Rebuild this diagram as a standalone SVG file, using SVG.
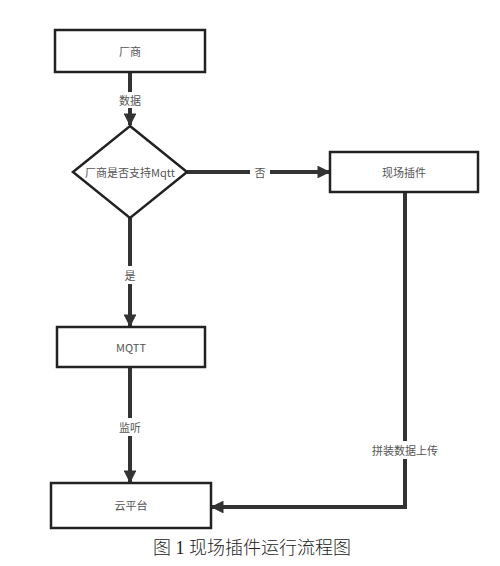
<svg xmlns="http://www.w3.org/2000/svg" width="500" height="566" viewBox="0 0 500 566">
<style>
.box{fill:#fff;stroke:#222;stroke-width:2.5}
.t{font-family:"Noto Sans CJK SC","Liberation Sans",sans-serif;font-size:11px;fill:#555;text-anchor:middle;dominant-baseline:central}
.ln{fill:none;stroke:#333;stroke-width:4}
.lb{font-family:"Noto Sans CJK SC","Liberation Sans",sans-serif;font-size:11px;fill:#555;text-anchor:middle;dominant-baseline:central}
.cap{font-family:"Liberation Serif","Noto Sans CJK SC",serif;font-size:18px;font-weight:300;fill:#222;text-anchor:middle;dominant-baseline:central}
</style>
<defs>
<marker id="ah" viewBox="0 0 10 10" refX="9" refY="5" markerWidth="3.2" markerHeight="3.2" orient="auto" markerUnits="strokeWidth">
<path d="M0,0 L10,5 L0,10 z" fill="#333"/>
</marker>
</defs>
<rect width="500" height="566" fill="#fff"/>
<g id="connectors">
<line class="ln" x1="130" y1="72" x2="130" y2="92"/>
<line class="ln" x1="130" y1="108" x2="130" y2="125" marker-end="url(#ah)"/>
<line class="ln" x1="187" y1="172" x2="250" y2="172"/>
<line class="ln" x1="270" y1="172" x2="329" y2="172" marker-end="url(#ah)"/>
<line class="ln" x1="130" y1="218" x2="130" y2="266"/>
<line class="ln" x1="130" y1="284" x2="130" y2="326" marker-end="url(#ah)"/>
<line class="ln" x1="130" y1="367" x2="130" y2="418"/>
<line class="ln" x1="130" y1="436" x2="130" y2="482" marker-end="url(#ah)"/>
<polyline class="ln" points="405,192 405,441"/>
<polyline class="ln" points="405,459 405,507 212,507" marker-end="url(#ah)"/>
<text class="lb" x="130" y="100">数据</text>
<text class="lb" x="260" y="172">否</text>
<text class="lb" x="130" y="275">是</text>
<text class="lb" x="130" y="427">监听</text>
<text class="lb" x="405" y="450">拼装数据上传</text>
</g>
<g id="n1"><rect class="box" x="55" y="30" width="150" height="42"/><text class="t" x="130" y="51">厂商</text></g>
<g id="n2"><polygon class="box" points="130,126 187,172 130,218 73,172"/><text class="t" x="130" y="172">厂商是否支持Mqtt</text></g>
<g id="n3"><rect class="box" x="330" y="152" width="148" height="40"/><text class="t" x="404" y="172">现场插件</text></g>
<g id="n4"><rect class="box" x="57" y="327" width="148" height="40"/><text class="t" x="131" y="347">MQTT</text></g>
<g id="n5"><rect class="box" x="51" y="483" width="160" height="45"/><text class="t" x="131" y="505">云平台</text></g>
<text class="cap" x="252" y="548">图 1 现场插件运行流程图</text>
</svg>
